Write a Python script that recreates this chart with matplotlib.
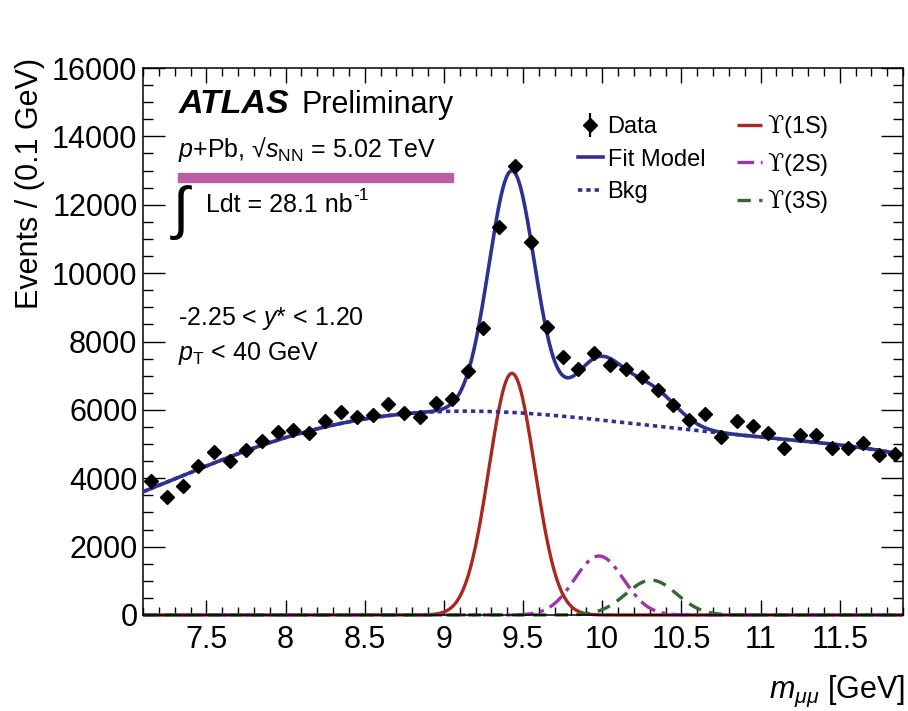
import numpy as np
import matplotlib.pyplot as plt
from matplotlib.ticker import MultipleLocator
from matplotlib.patches import Rectangle

plt.rcParams["font.family"] = ["Liberation Sans", "DejaVu Serif"]
plt.rcParams["mathtext.fontset"] = "custom"
plt.rcParams["mathtext.rm"] = "Liberation Sans"
plt.rcParams["mathtext.it"] = "Liberation Sans:italic"
plt.rcParams["mathtext.bf"] = "Liberation Sans:bold"
plt.rcParams["mathtext.cal"] = "DejaVu Serif"

# dimuon mass bins (0.1 GeV) and events per bin
mass_bins = np.round(np.arange(7.15, 11.9, 0.1), 2)
events = [3920, 3460, 3770, 4360, 4780, 4510, 4830, 5100, 5360, 5410,
          5310, 5680, 5950, 5800, 5850, 6170, 5900, 5780, 6190, 6310,
          7145, 8385, 11340, 13130, 10920, 8415, 7555, 7190, 7655, 7310,
          7195, 6970, 6580, 6140, 5700, 5870, 5200, 5675, 5530, 5310,
          4880, 5265, 5265, 4880, 4880, 5020, 4680, 4700]

# background shape read at a few masses
bkg_mass = [7.1, 7.5, 8.0, 8.5, 9.0, 9.5, 10.0, 10.5, 11.0, 11.5, 11.9]
bkg_level = [3620, 4320, 5200, 5780, 5930, 5870, 5704, 5480, 5200, 4954, 4700]

# Upsilon peaks: position, width, height
states = ["1S", "2S", "3S"]
peak_mass = [9.43, 9.98, 10.31]
peak_width = [0.145, 0.155, 0.16]
peak_height = [7070, 1725, 1020]

blue = "#2E3192"
peak_colors = ["#A8291F", "#A033A8", "#2F6B2F"]
peak_styles = [(0, ()), (0, (5, 2, 1.2, 2)), (0, (4, 2.5))]


def px(x, y):
    return x / 908, 1 - y / 711


fig = plt.figure(figsize=(9.08, 7.11), dpi=100)
ax = fig.add_axes([143 / 908, 96 / 711, 760 / 908, 547 / 711])

m = np.linspace(7.1, 11.9, 600)
coef = np.polyfit(np.array(bkg_mass) - 9.5, bkg_level, 5)
bkg = np.polyval(coef, m - 9.5)
peaks = [h * np.exp(-0.5 * ((m - mu) / s) ** 2)
         for mu, s, h in zip(peak_mass, peak_width, peak_height)]
fit = bkg + sum(peaks)

ups_labels = [r"$\mathcal{ϒ}$(" + st + ")" for st in states]
for lab, pk, c, ls in zip(ups_labels, peaks, peak_colors, peak_styles):
    ax.plot(m, pk, color=c, lw=2.4, linestyle=ls, clip_on=False, label=lab, zorder=2)

ax.plot(m, bkg, color=blue, lw=2.6, linestyle=(0, (1.2, 1.1)), label="Bkg", zorder=3)
ax.plot(m, fit, color=blue, lw=2.6, label="Fit Model", zorder=4)
ax.errorbar(mass_bins, events, yerr=np.sqrt(events), fmt="D", color="black",
            ms=7.5, elinewidth=1.6, capsize=0, zorder=5, label="Data")

ax.set_xlim(7.1, 11.9)
ax.set_ylim(0, 16000)
ax.set_xticks(np.arange(7.5, 11.6, 0.5))
ax.set_xticklabels(["7.5", "8", "8.5", "9", "9.5", "10", "10.5", "11", "11.5"])
ax.xaxis.set_minor_locator(MultipleLocator(0.1))
ax.set_yticks(np.arange(0, 16001, 2000))
ax.yaxis.set_minor_locator(MultipleLocator(500))
ax.tick_params(which="both", direction="in", top=True, right=True, labelsize=22)
ax.tick_params(axis="x", which="major", length=11, width=1, pad=7)
ax.tick_params(axis="x", which="minor", length=6, width=1)
ax.tick_params(axis="y", which="major", length=16, width=1, pad=4)
ax.tick_params(axis="y", which="minor", length=7.5, width=1)
for sp in ax.spines.values():
    sp.set_linewidth(1.1)

fig.text(*px(30, 58), "Events / (0.1 GeV)", rotation=90, ha="center", va="top", fontsize=22)
fig.text(*px(905, 698), r"$m_{\mu\mu}$ [GeV]", ha="right", va="baseline", fontsize=22)

fig.text(*px(179, 113), "ATLAS", fontsize=24.5, fontweight="bold", fontstyle="italic",
         va="baseline")
fig.text(*px(302, 113), "Preliminary", fontsize=22, va="baseline")
fig.text(*px(178, 157), r"$p$+Pb, √$s_{\rm NN}$ = 5.02 TeV", fontsize=18, va="baseline")
fig.patches.append(Rectangle(px(178, 182), 275 / 908, 9 / 711, color="#BA5FA3",
                             transform=fig.transFigure))
fig.text(*px(170, 228), r"$\int$", fontsize=42, va="baseline")
ldt = fig.text(*px(206, 212), "Ldt = 28.1 nb", fontsize=18, va="baseline")
fig.canvas.draw()
ldt_end = ldt.get_window_extent().x1
fig.text(ldt_end / 908 + 1 / 908, 1 - 200 / 711, "-1", fontsize=12.5, va="baseline")
fig.text(*px(178, 325), r"-2.25 < $y$* < 1.20", fontsize=18, va="baseline")
fig.text(*px(178, 360), r"$p_{\rm T}$ < 40 GeV", fontsize=18, va="baseline")

h, l = ax.get_legend_handles_labels()
hd = dict(zip(l, h))
order = ["Data", "Fit Model", "Bkg"] + ups_labels
ax.legend([hd[k] for k in order], order, ncol=2, frameon=False, fontsize=17,
          loc="upper left", bbox_to_anchor=px(578, 113), bbox_transform=fig.transFigure,
          handlelength=1.05, handletextpad=0.2, columnspacing=1.35, labelspacing=0.45,
          borderpad=0, borderaxespad=0)

fig.savefig("out.png", dpi=100)
